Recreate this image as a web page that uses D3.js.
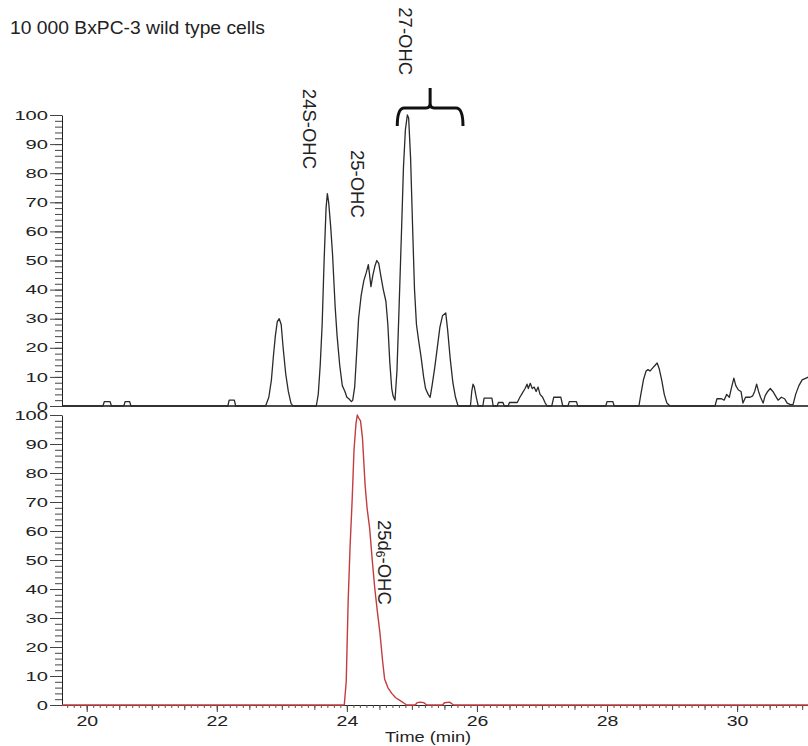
<!DOCTYPE html>
<html>
<head>
<meta charset="UTF-8">
<title>BxPC-3 oxysterol chromatogram</title>
<script src="https://d3js.org/d3.v7.min.js"></script>
<style>
  body { margin: 0; background: #fff; }
  text { font-family: "Liberation Sans", Arial, sans-serif; fill: #222; }
</style>
</head>
<body>
<div id="chart"></div>
<script>
// ---- data: [time (min), relative abundance %] ----
var upperTrace = [
  [19.62,0],[20.25,0],[20.27,1.5],[20.36,1.5],[20.38,0],
  [20.57,0],[20.59,1.5],[20.66,1.5],[20.68,0],
  [22.17,0],[22.19,2],[22.27,2],[22.29,0],
  [22.75,0],[22.80,3],[22.84,9],[22.87,17],[22.90,24],[22.93,29],[22.96,30],[22.99,28],[23.02,20],[23.06,11],[23.10,5],[23.14,1],[23.17,0],
  [23.53,0],[23.56,4],[23.59,14],[23.62,28],[23.65,50],[23.68,68],[23.70,73],[23.72,70],[23.75,62],[23.78,52],[23.82,34],[23.85,24],[23.89,14],[23.93,7],[23.97,5],[24.00,3],[24.03,2.5],[24.07,1.5],[24.09,2],[24.12,6.5],
  [24.15,18],[24.18,30],[24.22,38],[24.26,43],[24.30,46],[24.33,48.6],[24.35,45],[24.37,41],[24.40,45],[24.43,48],[24.46,50],[24.49,49],[24.52,45],[24.56,40],[24.60,36],[24.63,28],[24.66,15],[24.69,6],[24.71,3.5],
  [24.74,2],[24.77,12],[24.80,32],[24.84,60],[24.87,82],[24.90,95],[24.93,100],[24.95,99],[24.98,85],[25.01,62],[25.04,40],[25.07,28],[25.10,23],[25.14,17],[25.18,10],[25.21,6],[25.25,4],[25.28,3],
  [25.31,7],[25.35,13],[25.39,20],[25.43,27],[25.47,31],[25.52,32],[25.55,26],[25.59,16],[25.63,8],[25.67,3],[25.71,0],
  [25.90,0],[25.92,5],[25.94,7.5],[25.96,6.5],[25.99,3],[26.02,0],
  [26.09,0],[26.11,2.7],[26.23,2.7],[26.25,0],
  [26.31,0],[26.33,1.2],[26.40,1.2],[26.42,0],
  [26.48,0],[26.50,1.2],[26.60,1.2],
  [26.62,1.2],[26.66,3],[26.70,4.5],[26.74,6],[26.77,7.5],[26.79,6],[26.82,7.8],[26.85,6],[26.88,6.5],[26.91,5],[26.94,6.5],[26.97,4],[27.01,3],[27.05,1],[27.08,0],
  [27.15,0],[27.18,3],[27.29,3],[27.32,0],
  [27.40,0],[27.42,1.5],[27.53,1.5],[27.55,0],
  [27.98,0],[28.00,1.5],[28.09,1.5],[28.11,0],
  [28.49,0],[28.52,4],[28.56,9],[28.60,12],[28.63,12.5],[28.66,12],[28.70,13],[28.74,14],[28.77,14.8],[28.80,13],[28.84,9],[28.88,4],[28.92,1],[28.97,0],
  [29.66,0],[29.69,2.5],[29.76,2.5],[29.80,2],[29.84,4],[29.88,3],[29.91,6],[29.95,9.6],[29.98,7],[30.02,5.5],[30.06,5],[30.09,1],
  [30.13,3],[30.20,3],[30.24,3.5],[30.27,5],[30.30,7.5],[30.33,5],[30.36,3],[30.40,1],[30.43,3.5],[30.47,5],[30.51,6],[30.55,5],[30.59,3.5],[30.63,2],
  [30.68,3],[30.73,2.5],[30.77,1],[30.82,0.5],[30.86,0.5],[30.90,4],[30.95,7],[31.00,9],[31.10,10]
];

var lowerTrace = [
  [19.62,0],[23.96,0],[23.99,8],[24.02,36],[24.05,55],[24.08,70],[24.11,88],[24.14,97],[24.16,100],[24.18,99],[24.21,98],
  [24.24,92],[24.28,76],[24.31,68],[24.35,61],[24.39,50],[24.43,40],[24.47,32],[24.51,24.5],[24.55,15],[24.58,9],
  [24.63,6],[24.69,4],[24.75,2.5],[24.82,1.5],[24.92,0],
  [25.05,0],[25.08,0.8],[25.13,1],[25.18,0.8],[25.23,0],
  [25.47,0],[25.50,0.8],[25.58,1],[25.64,0],[31.10,0]
];

var xMajorTicks = [20, 22, 24, 26, 28, 30];
var yMajorTicks = [0, 10, 20, 30, 40, 50, 60, 70, 80, 90, 100];

// rotated peak labels: [text, time, abundance where the text starts, panel]
var peakLabels = [
  ["24S-OHC", 23.43, 109, "upper"],
  ["25-OHC", 24.17, 88, "upper"],
  ["27-OHC", 24.90, 137, "upper"]
];

// brace over the 27-OHC range: [start, middle, end] in minutes
var braceTimes = [24.79, 25.28, 25.77];

var titleText = "10 000 BxPC-3 wild type cells";
var xAxisTitle = "Time (min)";

// ---- layout ----
var W = 808, H = 746;
var svg = d3.select("#chart").append("svg")
  .attr("width", W).attr("height", H);

var x = d3.scaleLinear().domain([19.62, 31.09]).range([62, 808]);
var yUp = d3.scaleLinear().domain([0, 100]).range([406, 115]);
var yLo = d3.scaleLinear().domain([0, 100]).range([705, 415]);

var range = function (a, b, s) { return d3.range(a, b + 1e-9, s).map(function (v) { return +v.toFixed(2); }); };

// y axes (major labelled ticks + minor ticks every 2)
function drawY(scale) {
  svg.append("g")
    .attr("transform", "translate(62,0)")
    .call(d3.axisLeft(scale).tickValues(range(0, 100, 2)).tickSize(7).tickSizeOuter(0).tickFormat(""))
    .call(function (g) { g.selectAll("line").attr("stroke", "#444"); g.select(".domain").attr("stroke", "#222"); });

  var g = svg.append("g")
    .attr("transform", "translate(62,0)")
    .call(d3.axisLeft(scale).tickValues(yMajorTicks).tickSize(12).tickSizeOuter(0).tickPadding(2));
  g.select(".domain").remove();
  g.selectAll("line").attr("stroke", "#444");
  g.selectAll("text")
    .attr("font-size", 13)
    .attr("fill", "#222")
    .attr("x", 0)
    .attr("transform", "translate(-14,0) scale(1.55,1)")
    .style("font-family", "Liberation Sans, Arial, sans-serif");
}
drawY(yUp);
drawY(yLo);

// x axis under lower panel: minor 0.1, medium 0.5, labelled every 2
var xg = svg.append("g").attr("transform", "translate(0,705)");
xg.call(d3.axisBottom(x).tickValues(range(19.7, 31.0, 0.1)).tickSize(3).tickSizeOuter(0).tickFormat(""))
  .call(function (g) { g.select(".domain").attr("stroke", "#222"); g.selectAll("line").attr("stroke", "#555"); });
svg.append("g").attr("transform", "translate(0,705)")
  .call(d3.axisBottom(x).tickValues(range(20, 31, 0.5)).tickSize(5).tickFormat(""))
  .call(function (g) { g.select(".domain").remove(); g.selectAll("line").attr("stroke", "#555"); });
var xl = svg.append("g").attr("transform", "translate(0,705)")
  .call(d3.axisBottom(x).tickValues(xMajorTicks).tickSize(7).tickPadding(3));
xl.select(".domain").remove();
xl.selectAll("line").attr("stroke", "#444");
xl.selectAll("text")
  .attr("font-size", 15)
  .attr("fill", "#222")
  .attr("transform", "scale(1.3,1)")
  .style("font-family", "Liberation Sans, Arial, sans-serif");

// upper baseline
svg.append("line")
  .attr("x1", x(19.62)).attr("x2", x(31.09))
  .attr("y1", yUp(0)).attr("y2", yUp(0))
  .attr("stroke", "#111").attr("stroke-width", 1.5);

// traces
var lineUp = d3.line().x(function (d) { return x(d[0]); }).y(function (d) { return yUp(d[1]); });
var lineLo = d3.line().x(function (d) { return x(d[0]); }).y(function (d) { return yLo(d[1]); });

svg.append("path").datum(upperTrace)
  .attr("d", lineUp).attr("fill", "none")
  .attr("stroke", "#2a2a2a").attr("stroke-width", 1.3).attr("stroke-linejoin", "round");

svg.append("path").datum(lowerTrace)
  .attr("d", lineLo).attr("fill", "none")
  .attr("stroke", "#c43c3f").attr("stroke-width", 1.4).attr("stroke-linejoin", "round");

// title
svg.append("text")
  .attr("x", 10).attr("y", 34)
  .attr("font-size", 18.5)
  .attr("textLength", 255)
  .attr("lengthAdjust", "spacingAndGlyphs")
  .text(titleText);

// axis title
svg.append("text")
  .attr("transform", "translate(428,742) scale(1.3,1)")
  .attr("text-anchor", "middle")
  .attr("font-size", 14)
  .text(xAxisTitle);

// peak labels (rotated, reading top to bottom)
peakLabels.forEach(function (p) {
  var sc = p[3] === "upper" ? yUp : yLo;
  svg.append("text")
    .attr("transform", "translate(" + x(p[1]) + "," + sc(p[2]) + ") rotate(90)")
    .attr("dominant-baseline", "central")
    .attr("font-size", 18.5)
    .text(p[0]);
});

// 25d6-OHC label in lower panel with subscript
var lab = svg.append("text")
  .attr("transform", "translate(" + x(24.59) + "," + yLo(63.8) + ") rotate(90)")
  .attr("dominant-baseline", "central")
  .attr("font-size", 18.5);
lab.append("tspan").text("25d");
lab.append("tspan").attr("font-size", 12).attr("dy", 5).text("6");
lab.append("tspan").attr("dy", -5).text("-OHC");

// brace over the 27-OHC region
var bx0 = x(braceTimes[0]), bm = x(braceTimes[1]), bx1 = x(braceTimes[2]);
var by = yUp(102.4), byEnd = yUp(96.2), byTip = yUp(109.3);
var brace = d3.path();
brace.moveTo(bx0 - 1, byEnd);
brace.quadraticCurveTo(bx0 - 1, by, bx0 + 6, by);
brace.lineTo(bm - 4, by);
brace.quadraticCurveTo(bm, by, bm, by - 5);
brace.lineTo(bm, byTip);
brace.moveTo(bm, by - 5);
brace.quadraticCurveTo(bm, by, bm + 4, by);
brace.lineTo(bx1 - 6, by);
brace.quadraticCurveTo(bx1 + 1, by, bx1 + 1, byEnd);
svg.append("path")
  .attr("d", brace.toString())
  .attr("fill", "none")
  .attr("stroke", "#111")
  .attr("stroke-width", 3);
</script>
</body>
</html>
